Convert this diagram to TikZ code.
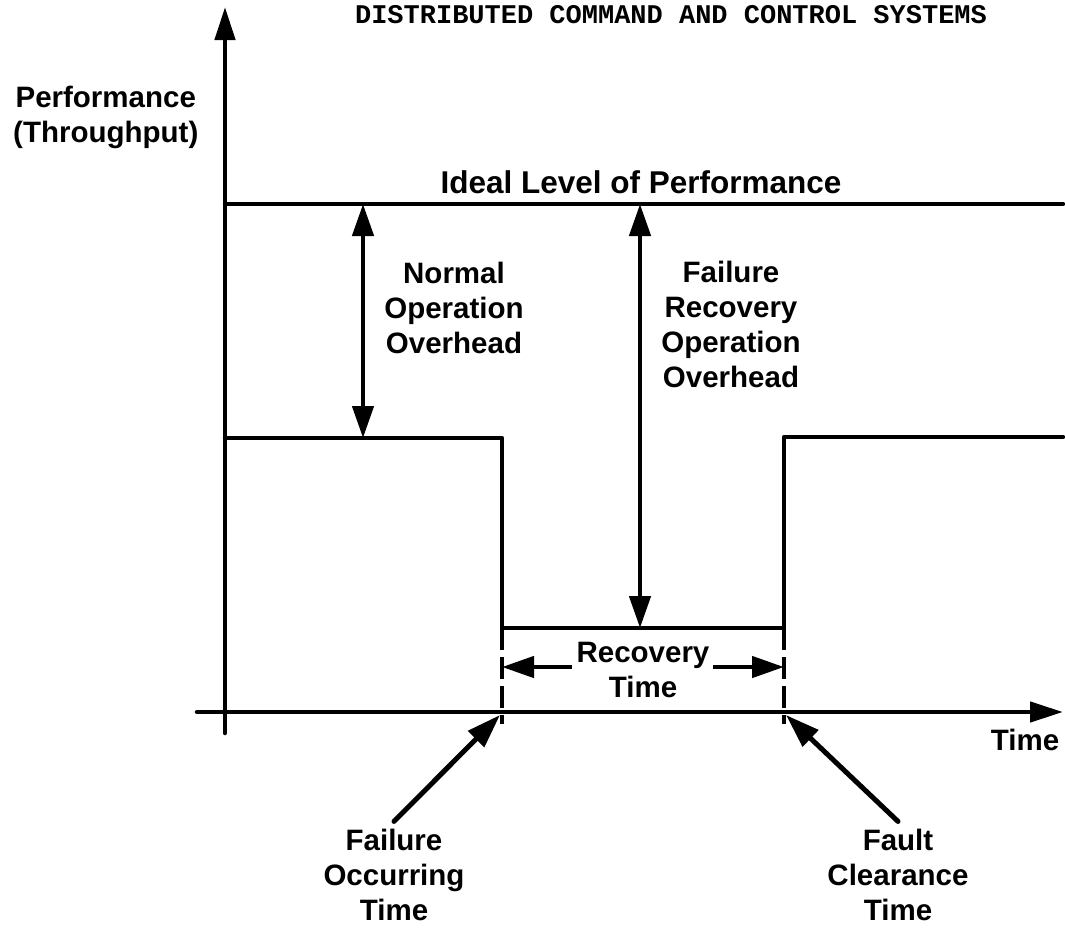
\documentclass[tikz,border=0pt]{standalone}
\usepackage{fontspec}
\usetikzlibrary{arrows.meta}
\newfontfamily\lblfont{Liberation Sans}
\newfontfamily\ttlfont{Liberation Mono}
\begin{document}
\begin{tikzpicture}[x=1pt,y=-1pt,
  heavy/.style={line width=4.5pt,line cap=round,line join=round},
  axisline/.style={heavy,-{Triangle[width=20pt,length=33pt]}},
  dimarrow/.style={line width=4.5pt,{Triangle[width=21pt,length=32pt]}-{Triangle[width=21pt,length=32pt]}},
  onearrow/.style={line width=4.5pt,-{Triangle[width=21pt,length=32pt]}},
  pointer/.style={line width=5pt,line cap=round,-{Triangle[width=22pt,length=34pt]}},
  guide/.style={line width=4pt,dash pattern=on 22pt off 7pt},
  lbl/.style={font=\lblfont\bfseries\fontsize{29.5}{35}\selectfont,align=center,inner sep=0pt},
  lblbig/.style={font=\lblfont\bfseries\fontsize{31.5}{37}\selectfont,inner sep=0pt}]
\useasboundingbox (0,0) rectangle (1065,930);

% reference points
\coordinate (o) at (225,712);
\coordinate (ytop) at (225,7);
\coordinate (ybot) at (225,733);
\coordinate (xleft) at (197,712);
\coordinate (xright) at (1063,712);
\coordinate (idl) at (225,204);
\coordinate (idr) at (1063,204);
\coordinate (n0) at (225,438);
\coordinate (n1) at (502,438);
\coordinate (n2) at (502,628);
\coordinate (n3) at (784,628);
\coordinate (n4) at (784,437);
\coordinate (n5) at (1063,437);
\coordinate (fo) at (502,712);
\coordinate (fc) at (784,712);

% title
\node[font=\ttlfont\bfseries\fontsize{27}{30}\selectfont,anchor=base,inner sep=0pt] (title) at (671,23) {DISTRIBUTED COMMAND AND CONTROL SYSTEMS};

% axes
\draw[axisline] (ybot) -- (ytop);
\draw[axisline] (xleft) -- (xright);

% ideal level
\draw[heavy] (idl) -- (idr);

% performance curve
\draw[heavy] (n0) -- (n1) -- (n2) -- (n3) -- (n4) -- (n5);

% dashed time markers
\draw[guide] (n2) -- (502,724);
\draw[guide] (n3) -- (784,724);

% overhead arrows
\draw[dimarrow] (363,204) -- (363,438);
\draw[dimarrow] (640,204) -- (640,628);

% recovery time arrows
\coordinate (rl) at (572,667);
\coordinate (rr) at (713,667);
\draw[onearrow] (rl) -- (n2 |- rl);
\draw[onearrow] (rr) -- (n3 |- rr);

% labels (base anchor sits on the last line)
\node[lbl,anchor=base west] (perf) at (13,142) {Performance\\(Throughput)};
\node[lblbig,anchor=base] (ideal) at (641,193) {Ideal Level of Performance};
\node[lbl,anchor=base] (normal) at (454,353) {Normal\\Operation\\Overhead};
\node[lbl,anchor=base] (frec) at (731,387) {Failure\\Recovery\\Operation\\Overhead};
\node[lbl,anchor=base] (rec) at (643,697) {Recovery\\Time};
\node[lbl,anchor=base] (time) at (1025,750) {Time};
\node[lbl,anchor=base] (focc) at (394,920) {Failure\\Occurring\\Time};
\node[lbl,anchor=base] (fclr) at (898,920) {Fault\\Clearance\\Time};

% pointers to event times
\draw[pointer] ([yshift=7pt]focc.north) -- ([shift={(-2pt,-3pt)}]fo);
\draw[pointer] ([yshift=7pt]fclr.north) -- ([shift={(2pt,-3pt)}]fc);
\end{tikzpicture}
\end{document}
